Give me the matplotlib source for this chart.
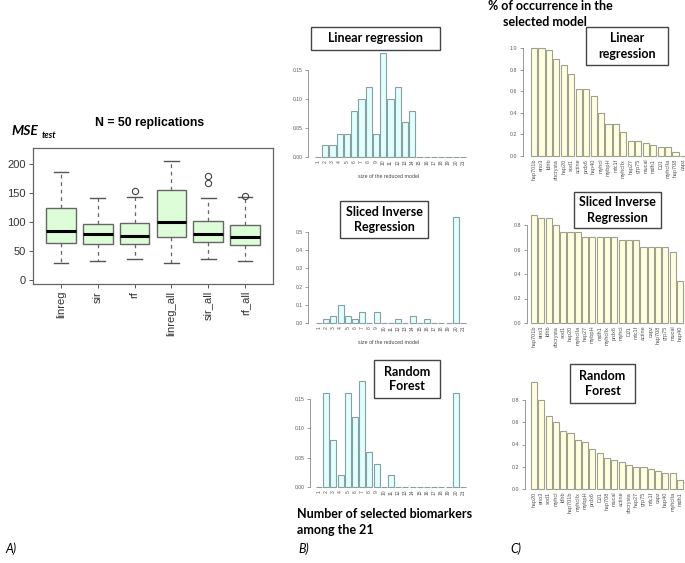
import numpy as np
import matplotlib
matplotlib.use("Agg")
import matplotlib.pyplot as plt
from matplotlib.patches import Rectangle

# ---------------- data ----------------
box_names = ["linreg", "sir", "rf", "linreg_all", "sir_all", "rf_all"]
box_whislo = [30, 32, 36, 30, 37, 33]
box_q1 = [64, 62, 62, 74, 65, 60]
box_med = [84, 79, 76, 100, 80, 74]
box_q3 = [124, 97, 99, 155, 101, 94]
box_whishi = [186, 141, 143, 205, 141, 143]
box_fliers = [[], [], [154], [], [168, 180], [145]]

sizes = list(range(1, 22))
size_lr = [0, 0.02, 0.02, 0.04, 0.04, 0.08, 0.10, 0.12, 0.04, 0.18, 0.10,
           0.12, 0.06, 0.08, 0, 0, 0, 0, 0, 0, 0]
size_sir = [0, 0.02, 0.04, 0.10, 0.04, 0.02, 0.06, 0, 0.06, 0, 0,
            0.02, 0, 0.04, 0, 0.02, 0, 0, 0, 0.58, 0]
size_rf = [0, 0.16, 0.08, 0.02, 0.16, 0.12, 0.18, 0.06, 0.04, 0, 0.02,
           0, 0, 0, 0, 0, 0, 0, 0, 0.16, 0]

occ_lr_names = ["hsp701b", "eno3", "ldhb", "abcrysta", "hsp20", "sod1", "actine",
                "prdx6", "hsp40", "myhcI", "mybpH", "mlc1f", "myhcIIx", "hsp27",
                "grp75", "mucal", "mdh1", "DJ1", "myhcIIa", "hsp708", "capz"]
occ_lr = [1.0, 1.0, 0.98, 0.90, 0.84, 0.76, 0.62, 0.62, 0.56, 0.40, 0.30,
          0.30, 0.22, 0.14, 0.14, 0.12, 0.10, 0.08, 0.08, 0.04, 0.0]
occ_sir_names = ["hsp701b", "eno3", "ldhb", "abcrysta", "sod1", "hsp20", "myhcIIa",
                 "hsp27", "mybpH", "mdh1", "myhcIIx", "prdx6", "myhcI", "DJ1",
                 "mlc1f", "actine", "capz", "hsp708", "grp75", "mucal", "hsp40"]
occ_sir = [0.88, 0.86, 0.86, 0.80, 0.74, 0.74, 0.74, 0.70, 0.70, 0.70, 0.70,
           0.70, 0.68, 0.68, 0.68, 0.62, 0.62, 0.62, 0.62, 0.58, 0.34]
occ_rf_names = ["hsp20", "eno3", "sod1", "myhcI", "ldhb", "hsp701b", "myhcIIx",
                "mybpH", "prdx6", "DJ1", "hsp708", "mucal", "actine", "abcrysta",
                "hsp27", "grp75", "mlc1f", "capz", "hsp40", "myhcIIa", "mdh1"]
occ_rf = [0.96, 0.80, 0.66, 0.60, 0.52, 0.50, 0.44, 0.42, 0.36, 0.32, 0.28,
          0.26, 0.24, 0.22, 0.20, 0.20, 0.18, 0.16, 0.14, 0.14, 0.08]

# ---------------- layout helpers ----------------
W, H = 685, 563
fig = plt.figure(figsize=(W / 100, H / 100), dpi=100)
fig.patch.set_facecolor("white")

TICKF = "Liberation Sans"
BOXF = "Lato"


def px_axes(l, t, r, b):
    return fig.add_axes([l / W, 1 - b / H, (r - l) / W, (b - t) / H])


def lin_lim(p_lo, p_hi, pa, va, pb, vb):
    s = (vb - va) / (pb - pa)
    return va + (p_lo - pa) * s, va + (p_hi - pa) * s


def title_box(l, t, r, b, text, size=9.5):
    fig.patches.append(Rectangle((l / W, 1 - b / H), (r - l) / W, (b - t) / H,
                                 transform=fig.transFigure, facecolor="white",
                                 edgecolor="#444444", linewidth=1.0, zorder=5))
    fig.text((l + r) / 2 / W, 1 - (t + b) / 2 / H, text, ha="center", va="center",
             fontsize=size, fontweight="bold", family=BOXF, linespacing=1.3, zorder=6)


def style_r_axis(ax, yticks, fmt, fs):
    for s in ["top", "right", "bottom"]:
        ax.spines[s].set_visible(False)
    ax.spines["left"].set_bounds(yticks[0], yticks[-1])
    ax.spines["left"].set_color("#888888")
    ax.spines["left"].set_linewidth(0.6)
    ax.set_yticks(yticks)
    ax.set_yticklabels([fmt.format(v) for v in yticks], fontsize=fs,
                       color="#555555", family=TICKF)
    ax.tick_params(axis="y", length=2, width=0.6, color="#888888", pad=2)
    ax.tick_params(axis="x", length=0, pad=2)
    ax.patch.set_alpha(0)


def size_panel(l, t, r, b, vals, p1, p21, p0, pref, vref, yticks, fmt, xlabel=True):
    ax = px_axes(l, t, r, b)
    ax.bar(sizes, vals, width=0.83, color="#e0ffff", edgecolor="#8aa0a0",
           linewidth=0.8, clip_on=False)
    ax.set_xlim(*lin_lim(l, r, p1, 1, p21, 21))
    ax.set_ylim(*lin_lim(b, t, p0, 0, pref, vref))
    style_r_axis(ax, yticks, fmt, 3.6)
    ax.set_xticks(sizes)
    ax.set_xticklabels([str(s) for s in sizes], rotation=90, fontsize=3.6,
                       color="#555555", family=TICKF)
    if xlabel:
        ax.set_xlabel("size of the reduced model", fontsize=3.8, color="#444444",
                      family=TICKF, labelpad=6)
    return ax


def occ_panel(l, t, r, b, names, vals, p1, pn, p0, pref, vref, yticks):
    ax = px_axes(l, t, r, b)
    pos = np.arange(1, len(vals) + 1)
    ax.bar(pos, vals, width=0.83, color="#ffffe0", edgecolor="#a0a090",
           linewidth=0.8, clip_on=False)
    ax.set_xlim(*lin_lim(l, r, p1, 1, pn, len(vals)))
    ax.set_ylim(*lin_lim(b, t, p0, 0, pref, vref))
    style_r_axis(ax, yticks, "{:.1f}", 3.8)
    ax.set_xticks(pos)
    ax.set_xticklabels(names, rotation=90, fontsize=4.0, color="#555555",
                       family=TICKF)
    return ax


# ---------------- Panel A ----------------
axA = px_axes(33, 148, 273, 284)
stats = []
for i, n in enumerate(box_names):
    stats.append(dict(label=n, whislo=box_whislo[i], q1=box_q1[i], med=box_med[i],
                      q3=box_q3[i], whishi=box_whishi[i], fliers=box_fliers[i]))
pos = np.arange(1, len(box_names) + 1)
axA.bxp(stats, positions=pos, widths=0.8, capwidths=0.4, patch_artist=True,
        boxprops=dict(facecolor="#ddfdd8", edgecolor="#666666", linewidth=1.0),
        medianprops=dict(color="black", linewidth=2.2),
        whiskerprops=dict(color="#666666", linestyle=(0, (3, 3)), linewidth=0.9),
        capprops=dict(color="#555555", linewidth=1.0),
        flierprops=dict(marker="o", markerfacecolor="none", markeredgecolor="#444444",
                        markersize=4.5, markeredgewidth=0.8))
axA.set_xlim(0.24, 6.76)
axA.set_ylim(*lin_lim(284, 148, 280, 0, 164, 200))
axA.set_yticks([0, 50, 100, 150, 200])
axA.set_yticklabels(["0", "50", "100", "150", "200"], fontsize=8, family=TICKF,
                    color="#333333")
axA.set_xticks(pos)
axA.set_xticklabels(box_names, rotation=90, fontsize=8, family=TICKF, color="#333333")
axA.tick_params(length=3, width=0.7, color="#555555", pad=2)
for s in axA.spines.values():
    s.set_color("#666666")
    s.set_linewidth(0.9)

fig.text(150 / W, 1 - 123 / H, "N = 50 replications", ha="center", va="center",
         fontsize=8.8, fontweight="bold", family=TICKF)
fig.text(11 / W, 1 - 131 / H, "MSE", ha="left", va="center", fontsize=10,
         fontweight="bold", style="italic", family=BOXF)
fig.text(42 / W, 1 - 135 / H, "test", ha="left", va="center", fontsize=6.5,
         fontweight="bold", style="italic", family=BOXF)

# ---------------- Panel B ----------------
size_panel(308, 50, 470, 157, size_lr, 318, 463, 157, 70, 0.15,
           [0, 0.05, 0.10, 0.15], "{:.2f}")
title_box(311, 27, 440, 50, "Linear regression", 9)

size_panel(308, 214, 470, 323, size_sir, 319, 463, 323, 232, 0.5,
           [0, 0.1, 0.2, 0.3, 0.4, 0.5], "{:.1f}")
title_box(340, 201, 428, 238, "Sliced Inverse\nRegression", 9)

size_panel(310, 380, 470, 487, size_rf, 319, 463, 487, 399, 0.15,
           [0, 0.05, 0.10, 0.15], "{:.2f}", xlabel=False)
title_box(374, 360, 440, 398, "Random\nForest", 9)

fig.text(297 / W, 1 - 522 / H, "Number of selected biomarkers\namong the 21",
         ha="left", va="center", fontsize=9, fontweight="bold", family=BOXF,
         linespacing=1.4)

# ---------------- Panel C ----------------
fig.text(488 / W, 1 - 14 / H, "% of occurrence in the\n     selected model",
         ha="left", va="center", fontsize=9, fontweight="bold", family=BOXF,
         linespacing=1.4)

occ_panel(523, 45, 686, 156, occ_lr_names, occ_lr, 534, 683, 156, 48, 1.0,
          [0, 0.2, 0.4, 0.6, 0.8, 1.0])
title_box(586, 27, 668, 65, "Linear\nregression", 9)

occ_panel(527, 212, 686, 323, occ_sir_names, occ_sir, 534, 680, 323, 225, 0.8,
          [0, 0.2, 0.4, 0.6, 0.8])
title_box(574, 192, 661, 228, "Sliced Inverse\nRegression", 9)

occ_panel(525, 378, 686, 489, occ_rf_names, occ_rf, 534, 680, 489, 400, 0.8,
          [0, 0.2, 0.4, 0.6, 0.8])
title_box(570, 364, 635, 403, "Random\nForest", 9)

# ---------------- panel letters ----------------
for x, lab in [(5, "A)"), (298, "B)"), (510, "C)")]:
    fig.text(x / W, 1 - 549 / H, lab, ha="left", va="center", fontsize=9,
             style="italic", family=BOXF)

fig.savefig("out.png", dpi=100, facecolor="white")
